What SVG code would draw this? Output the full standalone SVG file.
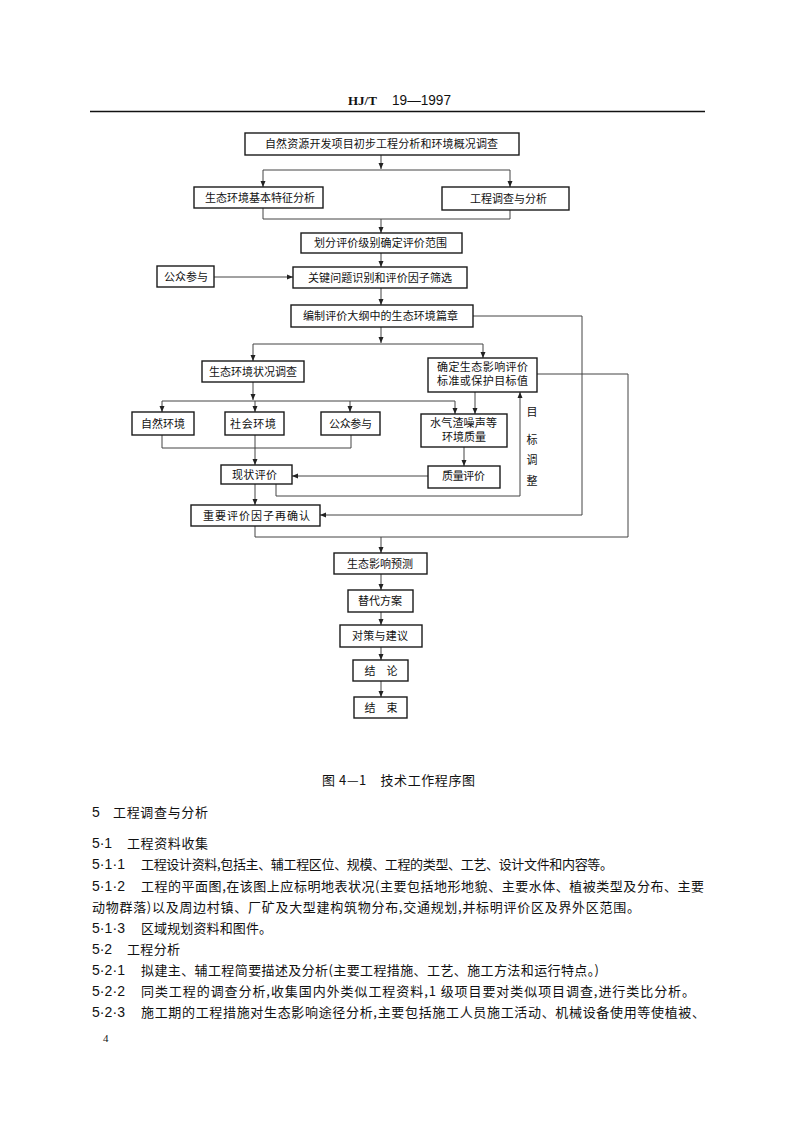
<svg xmlns="http://www.w3.org/2000/svg" width="793" height="1122" viewBox="0 0 793 1122">
<style>
.box{fill:#fff;stroke:#1a1a1a;stroke-width:1.4}
.lbl{font-family:"Noto Sans CJK SC","Noto Sans",sans-serif;font-size:11px;fill:#111;text-anchor:middle}
.con{fill:none;stroke:#444;stroke-width:1}
.body{font-family:"Noto Sans CJK SC","Noto Sans",sans-serif;font-size:13px;fill:#111}
.num{font-family:"Liberation Sans","Noto Sans",sans-serif;font-size:14px;fill:#111}
</style>
<defs>
<marker id="ah" markerWidth="6" markerHeight="6" refX="6" refY="3" orient="auto" markerUnits="userSpaceOnUse">
<path d="M0,0.5 L6,3 L0,5.5 Z" fill="#222"/>
</marker>
</defs>
<rect width="793" height="1122" fill="#fff"/>
<g id="header">
<text x="348" y="105" font-family="Liberation Serif,serif" font-weight="bold" font-size="13" fill="#111">HJ/T</text>
<text x="392" y="105" font-family="Liberation Sans,sans-serif" font-size="14" fill="#111" textLength="59" lengthAdjust="spacingAndGlyphs">19—1997</text>
<line x1="90" y1="111.5" x2="705" y2="111.5" stroke="#111" stroke-width="1.3"/>
</g>
<g id="connectors">
<path class="con" d="M381,155 V169" marker-end="url(#ah)"/>
<path class="con" d="M263,170 H510"/>
<path class="con" d="M263,170 V187" marker-end="url(#ah)"/>
<path class="con" d="M510,170 V187" marker-end="url(#ah)"/>
<path class="con" d="M263,208 V219 H510 V210"/>
<path class="con" d="M381,219 V233" marker-end="url(#ah)"/>
<path class="con" d="M381,253 V267" marker-end="url(#ah)"/>
<path class="con" d="M214,277 H293" marker-end="url(#ah)"/>
<path class="con" d="M381,288 V305" marker-end="url(#ah)"/>
<path class="con" d="M473,316 H582 V515 H320" marker-end="url(#ah)"/>
<path class="con" d="M381,327 V343" marker-end="url(#ah)"/>
<path class="con" d="M253,344 H483"/>
<path class="con" d="M253,344 V361" marker-end="url(#ah)"/>
<path class="con" d="M483,344 V358" marker-end="url(#ah)"/>
<path class="con" d="M537,374 H628 V537 H255 V526"/>
<path class="con" d="M381,537 V553" marker-end="url(#ah)"/>
<path class="con" d="M253,382 V400" marker-end="url(#ah)"/>
<path class="con" d="M162,401 H455"/>
<path class="con" d="M162,401 V412" marker-end="url(#ah)"/>
<path class="con" d="M255,401 V412" marker-end="url(#ah)"/>
<path class="con" d="M350,401 V412" marker-end="url(#ah)"/>
<path class="con" d="M455,401 V414" marker-end="url(#ah)"/>
<path class="con" d="M475,392 V414" marker-end="url(#ah)"/>
<path class="con" d="M162,435 V448 H351 V435"/>
<path class="con" d="M255,435 V465" marker-end="url(#ah)"/>
<path class="con" d="M464,447 V466" marker-end="url(#ah)"/>
<path class="con" d="M428,476 H292" marker-end="url(#ah)"/>
<path class="con" d="M276,484 V496 H520 V392" marker-end="url(#ah)"/>
<path class="con" d="M255,484 V505" marker-end="url(#ah)"/>
<path class="con" d="M381,574 V590" marker-end="url(#ah)"/>
<path class="con" d="M381,612 V625" marker-end="url(#ah)"/>
<path class="con" d="M381,647 V660" marker-end="url(#ah)"/>
<path class="con" d="M381,681 V697" marker-end="url(#ah)"/>
<g class="lbl">
<text x="532" y="416">目</text>
<text x="532" y="444">标</text>
<text x="532" y="464">调</text>
<text x="532" y="485">整</text>
</g>
</g>
<g id="n1"><rect class="box" x="245" y="133" width="274" height="22"/><text class="lbl" x="381.5" y="148" textLength="233">自然资源开发项目初步工程分析和环境概况调查</text></g>
<g id="n2"><rect class="box" x="194" y="187" width="129" height="21"/><text class="lbl" x="260" y="202" textLength="110">生态环境基本特征分析</text></g>
<g id="n3"><rect class="box" x="442" y="187" width="127" height="23"/><text class="lbl" x="508.5" y="203" textLength="77">工程调查与分析</text></g>
<g id="n4"><rect class="box" x="301" y="233" width="161" height="20"/><text class="lbl" x="380.5" y="247" textLength="133">划分评价级别确定评价范围</text></g>
<g id="n5"><rect class="box" x="293" y="267" width="174" height="21"/><text class="lbl" x="380" y="281.5" textLength="144">关键问题识别和评价因子筛选</text></g>
<g id="n6"><rect class="box" x="157" y="266" width="57" height="21"/><text class="lbl" x="186" y="281" textLength="44">公众参与</text></g>
<g id="n7"><rect class="box" x="291" y="305" width="182" height="22"/><text class="lbl" x="380.5" y="320" textLength="155">编制评价大纲中的生态环境篇章</text></g>
<g id="n8"><rect class="box" x="202" y="361" width="102" height="21"/><text class="lbl" x="253" y="375.5" textLength="88">生态环境状况调查</text></g>
<g id="n9"><rect class="box" x="428" y="358" width="109" height="34"/><text class="lbl" x="482.5" y="371" textLength="91">确定生态影响评价</text><text class="lbl" x="482.5" y="385" textLength="91">标准或保护目标值</text></g>
<g id="n10"><rect class="box" x="132" y="412" width="62" height="23"/><text class="lbl" x="163" y="428" textLength="44">自然环境</text></g>
<g id="n11"><rect class="box" x="225" y="412" width="59" height="23"/><text class="lbl" x="253" y="428" textLength="46">社会环境</text></g>
<g id="n12"><rect class="box" x="321" y="412" width="59" height="23"/><text class="lbl" x="350.5" y="428" textLength="43">公众参与</text></g>
<g id="n13"><rect class="box" x="421" y="414" width="86" height="33"/><text class="lbl" x="463.5" y="427" textLength="67">水气渣噪声等</text><text class="lbl" x="464" y="441" textLength="44">环境质量</text></g>
<g id="n14"><rect class="box" x="221" y="465" width="71" height="19"/><text class="lbl" x="254.5" y="478.5" textLength="45">现状评价</text></g>
<g id="n15"><rect class="box" x="428" y="466" width="72" height="22"/><text class="lbl" x="463.5" y="480" textLength="43">质量评价</text></g>
<g id="n16"><rect class="box" x="191" y="505" width="129" height="21"/><text class="lbl" x="256.5" y="520" textLength="107">重要评价因子再确认</text></g>
<g id="n17"><rect class="box" x="334" y="553" width="93" height="21"/><text class="lbl" x="380" y="568" textLength="66">生态影响预测</text></g>
<g id="n18"><rect class="box" x="348" y="590" width="65" height="22"/><text class="lbl" x="380" y="605" textLength="44">替代方案</text></g>
<g id="n19"><rect class="box" x="340" y="625" width="82" height="22"/><text class="lbl" x="380" y="640" textLength="56">对策与建议</text></g>
<g id="n20"><rect class="box" x="353" y="660" width="55" height="21"/><text class="lbl" x="381" y="675" textLength="33">结　论</text></g>
<g id="n21"><rect class="box" x="354" y="697" width="53" height="21"/><text class="lbl" x="381" y="712" textLength="33">结　束</text></g>
<g id="caption">
<text x="322" y="785" class="body" textLength="153">图 4—1　技术工作程序图</text>
</g>
<g id="body">
<text class="num" x="92" y="817">5</text>
<text class="body" x="113" y="817" textLength="95" font-size="13.5">工程调查与分析</text>
<text class="num" x="92" y="848" textLength="20">5·1</text>
<text class="body" x="127" y="848" textLength="81">工程资料收集</text>
<text class="num" x="92" y="869" textLength="33">5·1·1</text>
<text class="body" x="141" y="869" textLength="472">工程设计资料,包括主、辅工程区位、规模、工程的类型、工艺、设计文件和内容等。</text>
<text class="num" x="92" y="891" textLength="33">5·1·2</text>
<text class="body" x="141" y="891" textLength="563">工程的平面图,在该图上应标明地表状况(主要包括地形地貌、主要水体、植被类型及分布、主要</text>
<text class="body" x="92" y="912" textLength="548">动物群落)以及周边村镇、厂矿及大型建构筑物分布,交通规划,并标明评价区及界外区范围。</text>
<text class="num" x="92" y="933" textLength="33">5·1·3</text>
<text class="body" x="141" y="933" textLength="131">区域规划资料和图件。</text>
<text class="num" x="92" y="954" textLength="20">5·2</text>
<text class="body" x="127" y="954" textLength="53">工程分析</text>
<text class="num" x="92" y="975" textLength="33">5·2·1</text>
<text class="body" x="141" y="975" textLength="458">拟建主、辅工程简要描述及分析(主要工程措施、工艺、施工方法和运行特点。)</text>
<text class="num" x="92" y="996" textLength="33">5·2·2</text>
<text class="body" x="141" y="996" textLength="554">同类工程的调查分析,收集国内外类似工程资料,1 级项目要对类似项目调查,进行类比分析。</text>
<text class="num" x="92" y="1017" textLength="33">5·2·3</text>
<text class="body" x="141" y="1017" textLength="564">施工期的工程措施对生态影响途径分析,主要包括施工人员施工活动、机械设备使用等使植被、</text>
<text x="103" y="1042" font-family="Liberation Serif,serif" font-size="11" fill="#111">4</text>
</g>
</svg>
